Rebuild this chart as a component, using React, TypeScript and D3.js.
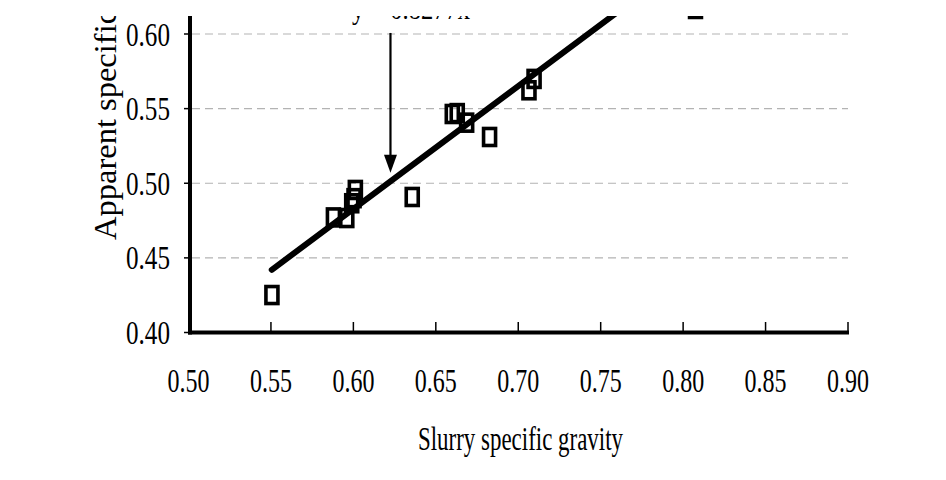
import React from 'react';
import * as d3 from 'd3';

const xTicks = [0.5, 0.55, 0.6, 0.65, 0.7, 0.75, 0.8, 0.85, 0.9];
const yTicks = [0.4, 0.45, 0.5, 0.55, 0.6];
const xTickLabels = ['0.50', '0.55', '0.60', '0.65', '0.70', '0.75', '0.80', '0.85', '0.90'];
const yTickLabels = ['0.40', '0.45', '0.50', '0.55', '0.60'];

const slurrySG = [0.5506, 0.5879, 0.596, 0.599, 0.6004, 0.6012, 0.6357, 0.66, 0.663, 0.6687, 0.6826, 0.7065, 0.7096];
const apparentSG = [0.4251, 0.4771, 0.4767, 0.4866, 0.49, 0.4955, 0.4908, 0.5464, 0.547, 0.5406, 0.531, 0.5623, 0.5699];

const fitX = [0.5505, 0.78];
const fitY = [0.442, 0.631];

const arrowX = 0.6225;
const arrowY = [0.6007, 0.507];

const xTitle = 'Slurry specific gravity';
const yTitle = 'Apparent specific gravity';
const equation = 'y = 0.8277x';
const legendLabel = 'Measured data';

const FONT = '"Liberation Serif", "Times New Roman", serif';

export default function App() {
  const W = 946;
  const H = 480;
  const x = d3.scaleLinear().domain([0.5, 0.9]).range([188.5, 848]);
  const y = d3.scaleLinear().domain([0.4, 0.6]).range([332.5, 34]);

  const line = d3
    .line<number>()
    .x((_, i) => x(fitX[i]))
    .y((_, i) => y(fitY[i]));

  const mw = 12;
  const mh = 17;

  const ax = x(arrowX);
  const ay0 = y(arrowY[0]);
  const ay1 = y(arrowY[1]);

  return (
    <svg
      width={W}
      height={H}
      style={{ position: 'absolute', left: 0, top: 0, background: '#fff' }}
      fontFamily={FONT}
    >
      <rect x={0} y={0} width={W} height={H} fill="#fff" />
      {/* grid */}
      {yTicks.slice(1).map((t) => (
        <line
          key={'g' + t}
          x1={192}
          x2={848}
          y1={y(t)}
          y2={y(t)}
          stroke="#b3b3b3"
          strokeWidth={1.2}
          strokeDasharray="8,5"
        />
      ))}
      {/* y ticks */}
      {yTicks.map((t) => (
        <line key={'yt' + t} x1={184} x2={190} y1={y(t)} y2={y(t)} stroke="#000" strokeWidth={1.5} />
      ))}
      {/* x ticks */}
      {xTicks.slice(1).map((t) => (
        <line key={'xt' + t} x1={x(t)} x2={x(t)} y1={322} y2={332} stroke="#000" strokeWidth={1.5} />
      ))}
      {/* axes */}
      <line x1={190} x2={190} y1={0} y2={334.5} stroke="#000" strokeWidth={4} />
      <line x1={188} x2={849} y1={332.5} y2={332.5} stroke="#000" strokeWidth={4} />

      {/* y tick labels */}
      {yTicks.map((t, i) => (
        <text
          key={'yl' + t}
          x={126}
          y={y(t) + 11.5}
          fontSize={33}
          textLength={44}
          lengthAdjust="spacingAndGlyphs"
          fill="#000"
        >
          {yTickLabels[i]}
        </text>
      ))}
      {/* x tick labels */}
      {xTicks.map((t, i) => (
        <text
          key={'xl' + t}
          x={x(t) - 21}
          y={392}
          fontSize={33}
          textLength={42}
          lengthAdjust="spacingAndGlyphs"
          fill="#000"
        >
          {xTickLabels[i]}
        </text>
      ))}

      {/* titles */}
      <text x={418} y={450} fontSize={33} textLength={205} lengthAdjust="spacingAndGlyphs" fill="#000">
        {xTitle}
      </text>
      <text transform="translate(116,240) rotate(-90)" fontSize={32.5} fill="#000">
        {yTitle}
      </text>

      {/* regression line */}
      <path d={line(fitX) || ''} fill="none" stroke="#000" strokeWidth={6} strokeLinecap="round" />

      {/* points */}
      {slurrySG.map((v, i) => (
        <rect
          key={'p' + i}
          x={x(v) - mw / 2}
          y={y(apparentSG[i]) - mh / 2}
          width={mw}
          height={mh}
          fill="none"
          stroke="#000"
          strokeWidth={3.6}
        />
      ))}

      {/* arrow */}
      <line x1={ax} x2={ax} y1={ay0} y2={ay1 - 14} stroke="#000" strokeWidth={2.2} />
      <path d={`M${ax - 6.5},${ay1 - 18} L${ax + 6.5},${ay1 - 18} L${ax},${ay1} Z`} fill="#000" />

      {/* equation annotation (cropped at the top edge as in the source) */}
      <text x={352} y={18.5} fontSize={29} textLength={118} lengthAdjust="spacingAndGlyphs" fill="#000">
        {equation}
      </text>

      {/* legend (cropped at the top edge as in the source) */}
      <rect x={695.5 - mw / 2} y={9 - mh / 2} width={mw} height={mh} fill="none" stroke="#000" strokeWidth={3.5} />
      <text x={712} y={10} fontSize={29} fill="#000">
        {legendLabel}
      </text>

      {/* crop of top edge */}
      <rect x={0} y={0} width={W} height={16} fill="#fff" />
    </svg>
  );
}
